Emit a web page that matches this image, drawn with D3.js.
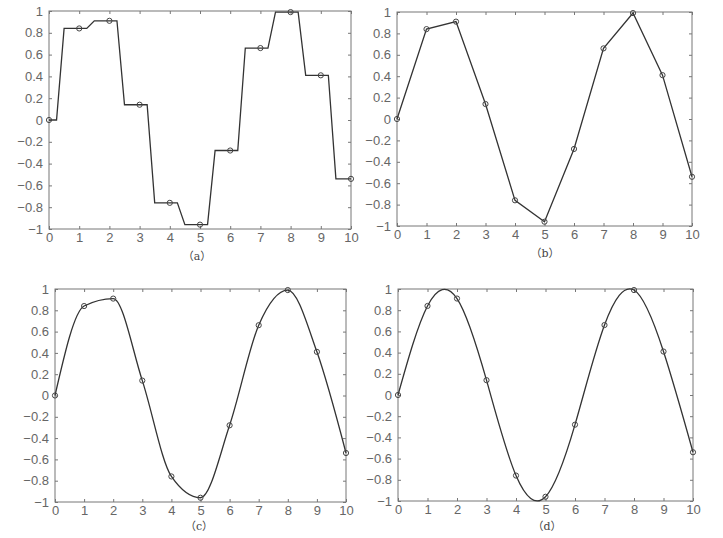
<!DOCTYPE html>
<html>
<head>
<meta charset="utf-8">
<script src="https://cdn.jsdelivr.net/npm/d3@7"></script>
<style>
  body { margin: 0; background: #fff; }
  svg { display: block; }
</style>
</head>
<body>
<svg width="723" height="538"></svg>
<script>
// sample points (x = 0..10)
var xs = [0, 1, 2, 3, 4, 5, 6, 7, 8, 9, 10];
var ys = [0, 0.84, 0.91, 0.14, -0.76, -0.96, -0.28, 0.66, 0.99, 0.41, -0.54];
var xTicks = [0, 1, 2, 3, 4, 5, 6, 7, 8, 9, 10];
var yTicks = [-1, -0.8, -0.6, -0.4, -0.2, 0, 0.2, 0.4, 0.6, 0.8, 1];
var panelLabels = ["\uff08a\uff09", "\uff08b\uff09", "\uff08c\uff09", "\uff08d\uff09"];

// nearest-neighbour look: flat, then a short ramp a quarter of the way in
function curveNearest(context) {
    var x0, y0, started;
    return {
        areaStart: function() {},
        areaEnd: function() {},
        lineStart: function() { started = false; },
        lineEnd: function() {},
        point: function(x, y) {
            if (!started) { context.moveTo(x, y); started = true; }
            else {
                context.lineTo(x0 + 0.25 * (x - x0), y0);
                context.lineTo(x0 + 0.5 * (x - x0), y);
                context.lineTo(x, y);
            }
            x0 = x; y0 = y;
        }
    };
}

var panels = [
    {l: 49, r: 351, t: 11, b: 229, curve: curveNearest, lx: 197, ly: 260},
    {l: 397, r: 692, t: 12, b: 226, curve: d3.curveLinear, lx: 545, ly: 257},
    {l: 55, r: 346, t: 289, b: 502, curve: d3.curveMonotoneX, lx: 199, ly: 530},
    {l: 398, r: 693, t: 289, b: 501, curve: d3.curveNatural, lx: 547, ly: 530}
];

var svg = d3.select("svg");
var fmt = d3.format("~g");
var data = xs.map(function(x, i) { return {x: x, y: ys[i]}; });

panels.forEach(function(p, k) {
    var x = d3.scaleLinear().domain([0, 10]).range([p.l, p.r]);
    var y = d3.scaleLinear().domain([-1, 1]).range([p.b, p.t]);
    var g = svg.append("g");

    var ax = g.append("g").attr("transform", "translate(0," + p.b + ")")
        .call(d3.axisBottom(x).tickValues(xTicks).tickFormat(fmt)
            .tickSizeInner(-3).tickSizeOuter(0).tickPadding(4));
    var ay = g.append("g").attr("transform", "translate(" + p.l + ",0)")
        .call(d3.axisLeft(y).tickValues(yTicks).tickFormat(fmt)
            .tickSizeInner(-3).tickSizeOuter(0).tickPadding(6));
    var at = g.append("g").attr("transform", "translate(0," + p.t + ")")
        .call(d3.axisTop(x).tickValues(xTicks).tickFormat("")
            .tickSizeInner(-3).tickSizeOuter(0));
    var ar = g.append("g").attr("transform", "translate(" + p.r + ",0)")
        .call(d3.axisRight(y).tickValues(yTicks).tickFormat("")
            .tickSizeInner(-3).tickSizeOuter(0));

    [ax, ay, at, ar].forEach(function(a) {
        a.select(".domain").remove();
        a.selectAll("line").attr("stroke", "#777");
        a.selectAll("text")
            .attr("fill", "#666")
            .style("font-family", "Liberation Sans, Arial, sans-serif")
            .style("font-size", "13px");
    });

    g.append("rect")
        .attr("x", p.l).attr("y", p.t)
        .attr("width", p.r - p.l).attr("height", p.b - p.t)
        .attr("fill", "none").attr("stroke", "#777").attr("stroke-width", 1);

    var line = d3.line()
        .x(function(d) { return x(d.x); })
        .y(function(d) { return y(d.y); })
        .curve(p.curve);

    g.append("path")
        .datum(data)
        .attr("d", line)
        .attr("fill", "none")
        .attr("stroke", "#333")
        .attr("stroke-width", 1.3);

    g.selectAll(".pt")
        .data(data)
        .enter().append("circle")
        .attr("class", "pt")
        .attr("cx", function(d) { return x(d.x); })
        .attr("cy", function(d) { return y(d.y); })
        .attr("r", 2.6)
        .attr("fill", "none")
        .attr("stroke", "#444")
        .attr("stroke-width", 1);

    g.append("text")
        .attr("x", p.lx).attr("y", p.ly)
        .attr("text-anchor", "middle")
        .attr("fill", "#444")
        .style("font-family", "DejaVu Serif, Noto Sans CJK SC, serif")
        .style("font-size", "11px")
        .text(panelLabels[k]);
});
</script>
</body>
</html>
